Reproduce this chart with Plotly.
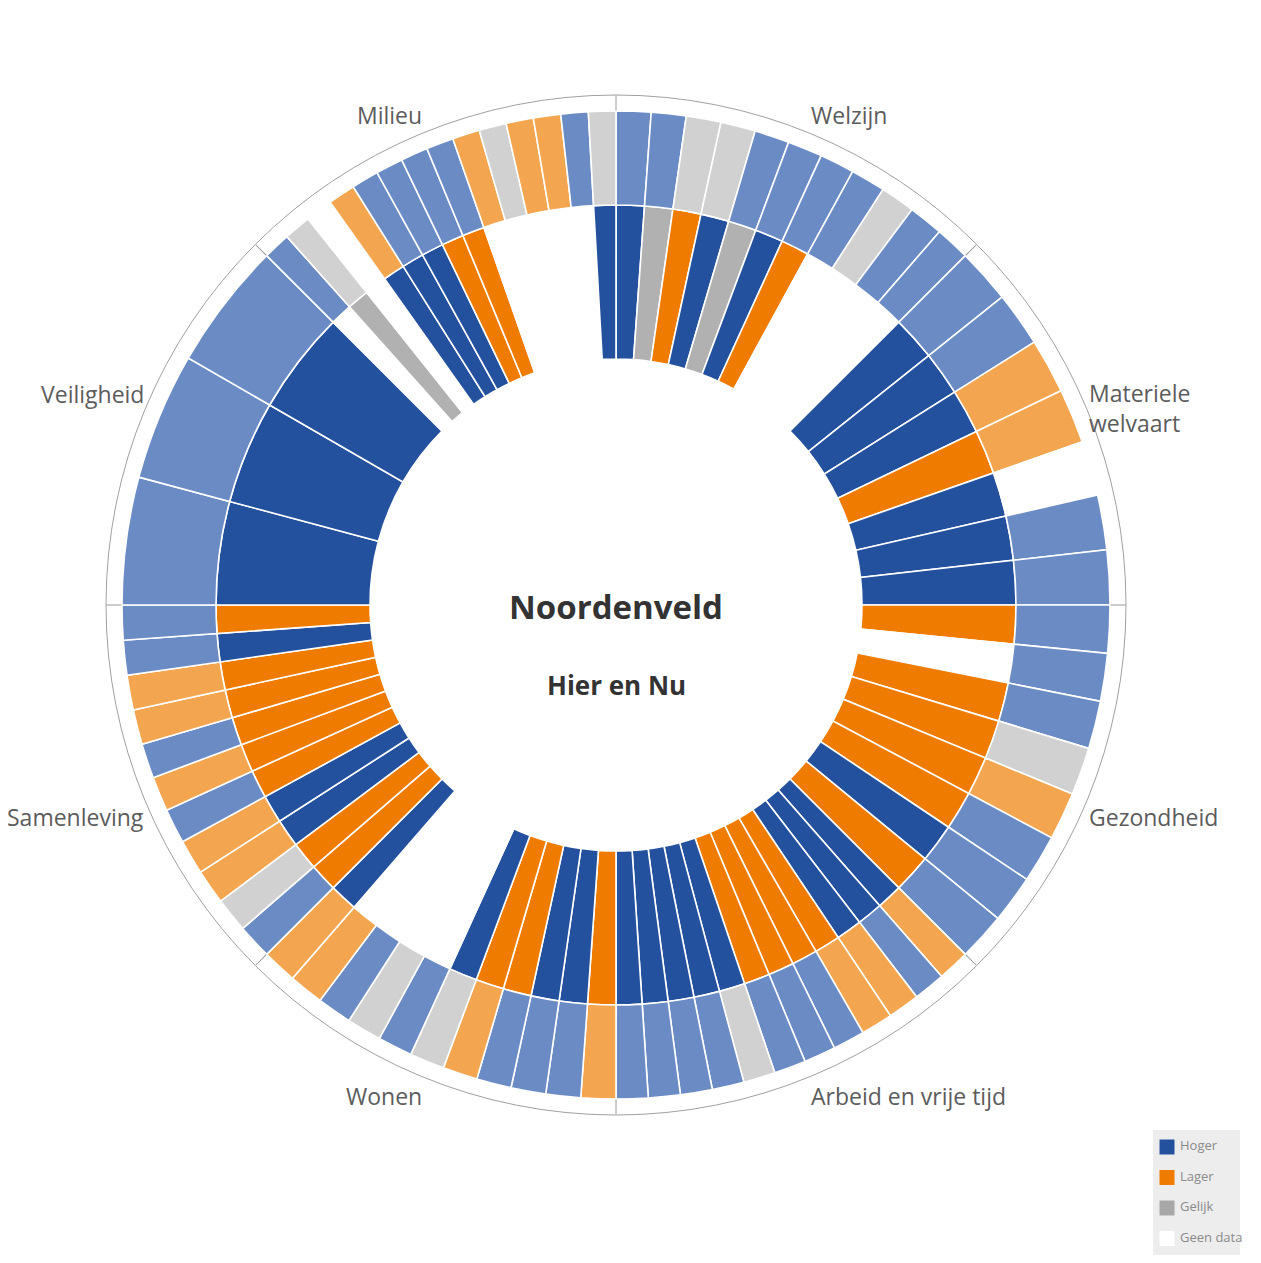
import math
import plotly.graph_objects as go

# ---------------- data ----------------
categories = ["Welzijn", "Materiele welvaart", "Gezondheid", "Arbeid en vrije tijd",
              "Wonen", "Samenleving", "Veiligheid", "Milieu"]
category_display = ["Welzijn", "Materiele<br>welvaart", "Gezondheid", "Arbeid en vrije tijd",
                    "Wonen", "Samenleving", "Veiligheid", "Milieu"]

# status codes: H = hoger, L = lager, G = gelijk, N = geen data (clockwise within each sector)
welzijn_inner = ["H", "G", "L", "H", "G", "H", "L", "N", "N", "N", "N"]
welzijn_outer = ["H", "H", "G", "G", "H", "H", "H", "H", "G", "H", "H"]
materiele_inner = ["H", "H", "H", "L", "H", "H", "H"]
materiele_outer = ["H", "H", "L", "L", "N", "H", "H"]
gezondheid_inner = ["L", "N", "L", "L", "L", "L", "H", "L"]
gezondheid_outer = ["H", "H", "H", "G", "L", "H", "H", "H"]
arbeid_inner = ["H", "H", "H", "L", "L", "L", "L", "H", "H", "H", "H", "H"]
arbeid_outer = ["L", "H", "L", "L", "H", "H", "H", "G", "H", "H", "H", "H"]
wonen_inner = ["L", "H", "H", "L", "L", "H", "N", "N", "N", "N", "H"]
wonen_outer = ["L", "H", "H", "H", "L", "G", "H", "G", "H", "L", "L"]
samenleving_inner = ["L", "L", "H", "H", "L", "L", "L", "L", "L", "H", "L"]
samenleving_outer = ["H", "G", "L", "L", "H", "L", "H", "L", "L", "H", "H"]
veiligheid_inner = ["H", "H", "H"]
veiligheid_outer = ["H", "H", "H"]
milieu_inner = ["N", "G", "N", "H", "H", "H", "L", "L", "N", "N", "N", "N", "N", "H"]
milieu_outer = ["H", "G", "N", "L", "H", "H", "H", "H", "L", "G", "L", "L", "H", "G"]

inner_by_cat = [welzijn_inner, materiele_inner, gezondheid_inner, arbeid_inner,
                wonen_inner, samenleving_inner, veiligheid_inner, milieu_inner]
outer_by_cat = [welzijn_outer, materiele_outer, gezondheid_outer, arbeid_outer,
                wonen_outer, samenleving_outer, veiligheid_outer, milieu_outer]

legend_codes = ["H", "L", "G", "N"]
legend_labels = ["Hoger", "Lager", "Gelijk", "Geen data"]
title_text = "Noordenveld"
subtitle_text = "Hier en Nu"

# ---------------- style ----------------
INNER_COLORS = {"H": "#24519e", "L": "#ef7b00", "G": "#b1b1b1", "N": "#ffffff"}
OUTER_COLORS = {"H": "#6b8bc5", "L": "#f4a550", "G": "#d1d1d1", "N": "#ffffff"}
LEGEND_COLORS = {"H": "#24519e", "L": "#ef7b00", "G": "#a8a8a8", "N": "#ffffff"}

W, H = 1245, 1247
CX, CY = 608, 597
R_MAX = 510
R_HOLE, R_MID, R_OUT = 246, 400, 494
SECTOR = 360 / len(categories)

# ---------------- bars ----------------
def ring(status_lists):
    th, wd, cols = [], [], []
    for i, sts in enumerate(status_lists):
        n = len(sts)
        w = SECTOR / n
        for j, s in enumerate(sts):
            th.append(i * SECTOR + w * (j + 0.5))
            wd.append(w)
            cols.append(s)
    return th, wd, cols

fig = go.Figure()

th_i, wd_i, st_i = ring(inner_by_cat)
fig.add_trace(go.Barpolar(
    theta=th_i, width=wd_i, r=[R_MID - R_HOLE] * len(th_i), base=[R_HOLE] * len(th_i),
    marker=dict(color=[INNER_COLORS[s] for s in st_i], line=dict(color="#ffffff", width=1.6)),
    hoverinfo="skip", showlegend=False,
))
th_o, wd_o, st_o = ring(outer_by_cat)
fig.add_trace(go.Barpolar(
    theta=th_o, width=wd_o, r=[R_OUT - R_MID] * len(th_o), base=[R_MID] * len(th_o),
    marker=dict(color=[OUTER_COLORS[s] for s in st_o], line=dict(color="#ffffff", width=1.6)),
    hoverinfo="skip", showlegend=False,
))

fig.update_layout(
    polar=dict(
        domain=dict(x=[(CX - R_MAX) / W, (CX + R_MAX) / W],
                    y=[(H - CY - R_MAX) / H, (H - CY + R_MAX) / H]),
        bgcolor="rgba(0,0,0,0)",
        radialaxis=dict(range=[0, R_MAX], visible=False),
        angularaxis=dict(rotation=90, direction="clockwise",
                         tickvals=[i * SECTOR for i in range(len(categories))],
                         ticks="inside", ticklen=15, tickcolor="#9a9a9a", tickwidth=1,
                         showticklabels=False, showgrid=False,
                         showline=True, linecolor="#a0a0a0", linewidth=1),
    )
)

# ---------------- category labels ----------------
for i, c in enumerate(category_display):
    mid = i * SECTOR + SECTOR / 2
    s = math.sin(math.radians(mid))
    co = math.cos(math.radians(mid))
    vertical_ish = abs(co) > 0.7
    r_lab = 529 if vertical_ish else 521
    nudge = 0.5 if vertical_ish else 1.5
    ang = mid - nudge if co * (1 if s > 0 else -1) > 0 else mid + nudge
    a = math.radians(ang)
    lx = CX + r_lab * math.sin(a)
    ly = CY - r_lab * math.cos(a) + 4.5
    nlines = c.count("<br>")
    fig.add_annotation(
        x=lx, y=ly, xref="x", yref="y", text=c, showarrow=False,
        xanchor="left" if s > 0 else "right", yanchor="middle", align="left",
        xshift=-5 if s > 0 else 6,
        yshift=4 - 14.5 * nlines,
        font=dict(family="Open Sans", size=23, color="#5c5c5c"),
    )

# ---------------- legend ----------------
leg_y0, leg_dy = 1139, 30.5
leg_ys = [leg_y0 + k * leg_dy for k in range(len(legend_codes))]
fig.add_shape(type="rect", xref="x", yref="y", x0=1145, x1=1232, y0=1122, y1=1247,
              fillcolor="#ededed", line=dict(width=0), layer="below")
fig.add_trace(go.Scatter(
    x=[1159] * len(legend_codes), y=leg_ys, mode="markers",
    marker=dict(symbol="square", size=15, color=[LEGEND_COLORS[c] for c in legend_codes],
                line=dict(width=0)),
    cliponaxis=False, hoverinfo="skip", showlegend=False,
))
fig.add_trace(go.Scatter(
    x=[1172] * len(legend_codes), y=leg_ys, mode="text", text=legend_labels,
    textposition="middle right",
    textfont=dict(family="Open Sans", size=13, color="#8a8a8a"),
    cliponaxis=False, hoverinfo="skip", showlegend=False,
))

# ---------------- center text ----------------
fig.add_annotation(x=CX, y=CY + 1, xref="x", yref="y", text="<b>" + title_text + "</b>",
                   showarrow=False, font=dict(family="Open Sans", size=33, color="#333333"))
fig.add_annotation(x=CX, y=CY + 80, xref="x", yref="y", text="<b>" + subtitle_text + "</b>",
                   showarrow=False, font=dict(family="Open Sans", size=26, color="#333333"))

fig.update_layout(
    width=W, height=H,
    margin=dict(l=0, r=0, t=0, b=0),
    paper_bgcolor="white", plot_bgcolor="rgba(0,0,0,0)",
    xaxis=dict(domain=[0, 1], range=[0, W], visible=False, fixedrange=True),
    yaxis=dict(domain=[0, 1], range=[H, 0], visible=False, fixedrange=True),
    showlegend=False,
)

fig.write_html("out.html")
